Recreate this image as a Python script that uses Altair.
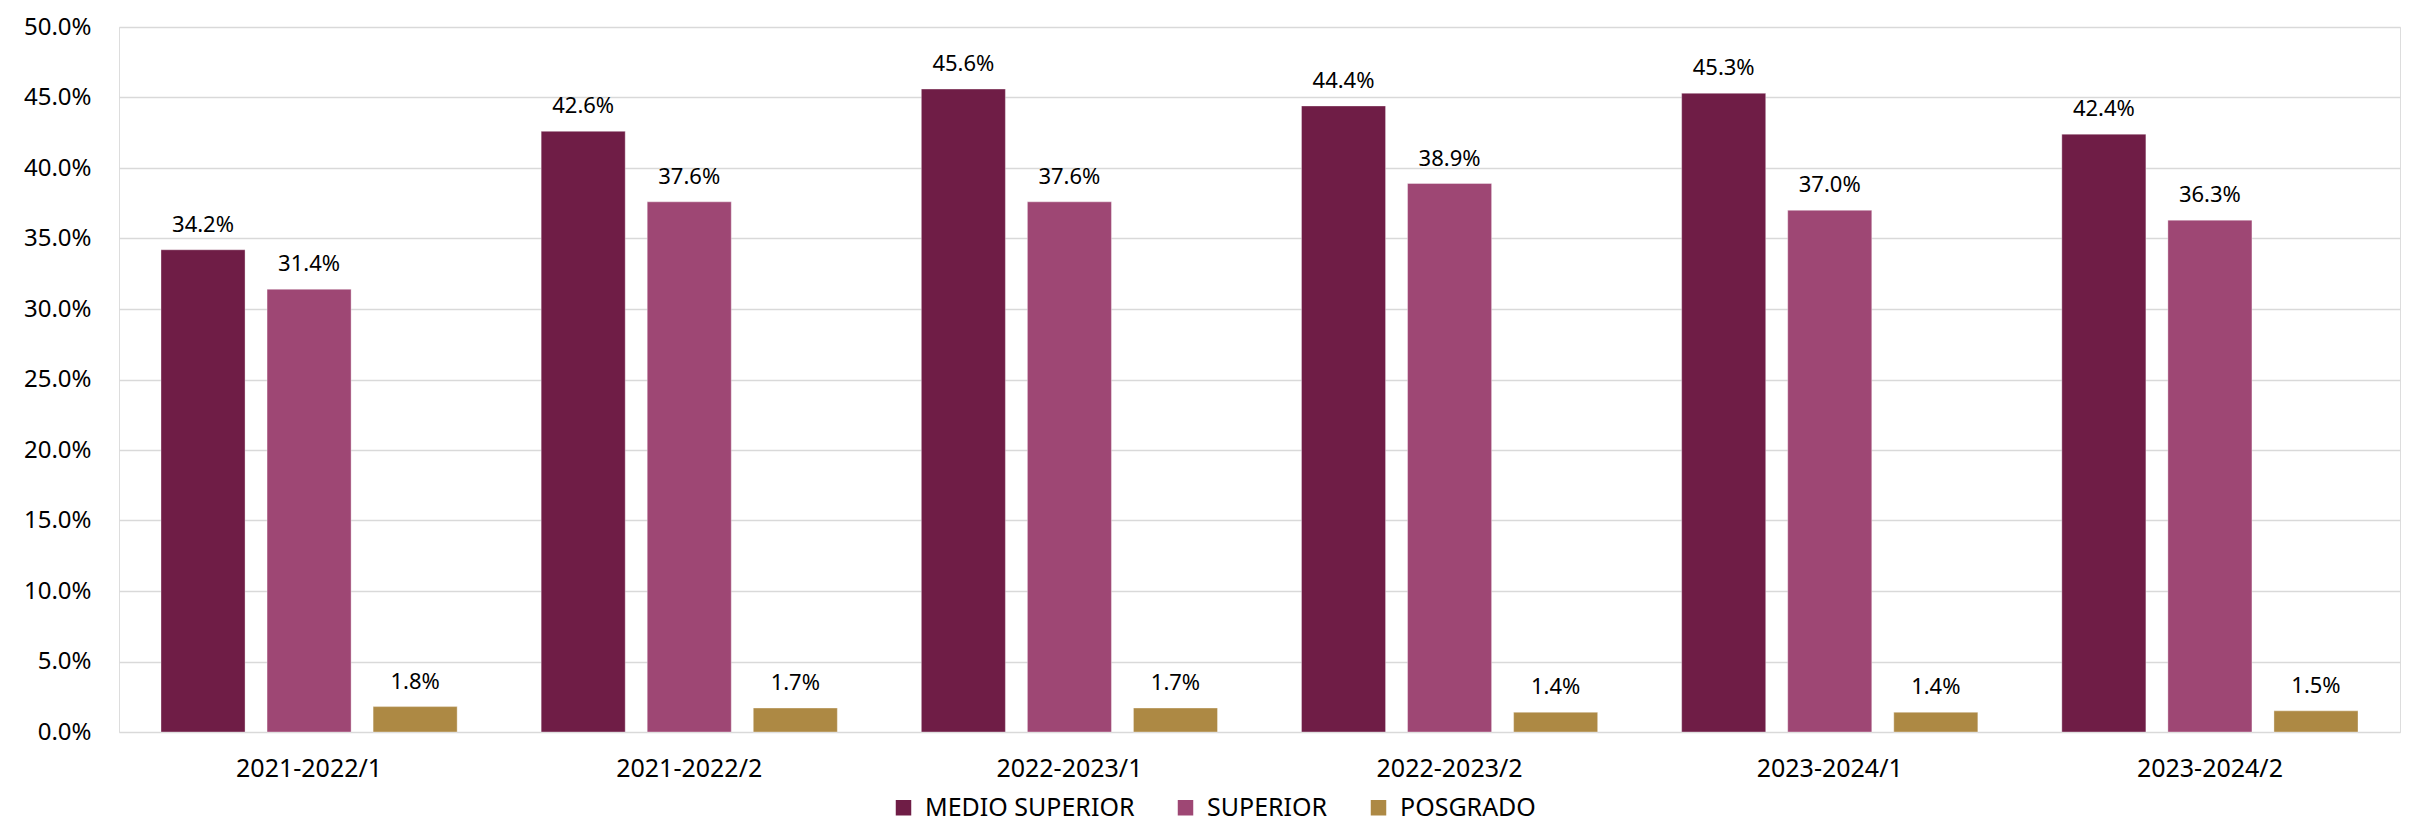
import altair as alt
import pandas as pd

periods = ["2021-2022/1", "2021-2022/2", "2022-2023/1", "2022-2023/2", "2023-2024/1", "2023-2024/2"]
levels = ["MEDIO SUPERIOR", "SUPERIOR", "POSGRADO"]
medio_superior = [34.2, 42.6, 45.6, 44.4, 45.3, 42.4]
superior = [31.4, 37.6, 37.6, 38.9, 37.0, 36.3]
posgrado = [1.8, 1.7, 1.7, 1.4, 1.4, 1.5]
colors = ["#6F1D46", "#9E4774", "#AD8944"]

rows = []
for i, p in enumerate(periods):
    for lvl, vals in zip(levels, [medio_superior, superior, posgrado]):
        rows.append({"periodo": p, "nivel": lvl, "valor": vals[i] / 100.0,
                     "etiqueta": f"{vals[i]:.1f}%"})
df = pd.DataFrame(rows)

FONT = "Noto Sans"

base = alt.Chart(df).encode(
    x=alt.X("periodo:N", sort=periods, title=None,
            scale=alt.Scale(paddingInner=0, paddingOuter=0),
            axis=alt.Axis(labelAngle=0, labelFontSize=25, labelColor="#000000",
                          labelPadding=24, ticks=False, domain=False, grid=False,
                          labelFont=FONT)),
    xOffset=alt.XOffset("nivel:N", sort=levels,
                        scale=alt.Scale(paddingInner=0.2075, paddingOuter=0.396)),
)

bars = base.mark_bar(stroke="#ffffff", strokeWidth=0.6, strokeOpacity=0.6).encode(
    y=alt.Y("valor:Q", title=None,
            scale=alt.Scale(domain=[0, 0.5], nice=False),
            axis=alt.Axis(format=".1%", values=[i * 0.05 for i in range(11)],
                          labelFontSize=24, labelColor="#000000", labelPadding=28,
                          ticks=False, domain=False, gridColor="#D9D9D9",
                          gridWidth=1.5, labelFont=FONT)),
    color=alt.Color("nivel:N", sort=levels,
                    scale=alt.Scale(domain=levels, range=colors),
                    legend=alt.Legend(title=None, orient="none", direction="horizontal",
                                      legendX=772, legendY=768,
                                      symbolType="square", symbolSize=240,
                                      symbolStrokeWidth=0,
                                      labelFontSize=25, labelFont=FONT,
                                      labelColor="#000000", labelOffset=9,
                                      labelLimit=600, columnPadding=38)),
)

labels = base.mark_text(baseline="alphabetic", dy=-18, fontSize=22, font=FONT,
                        color="#000000").encode(
    y=alt.Y("valor:Q"),
    text="etiqueta:N",
)

chart = (bars + labels).properties(
    width=2281, height=705,
    autosize=alt.AutoSizeParams(type="none"),
    padding={"left": 111, "top": 19, "right": 16, "bottom": 90},
).configure_view(stroke=None).configure(background="#ffffff")

chart.save("out.html", embed_options={"renderer": "svg", "actions": False})
